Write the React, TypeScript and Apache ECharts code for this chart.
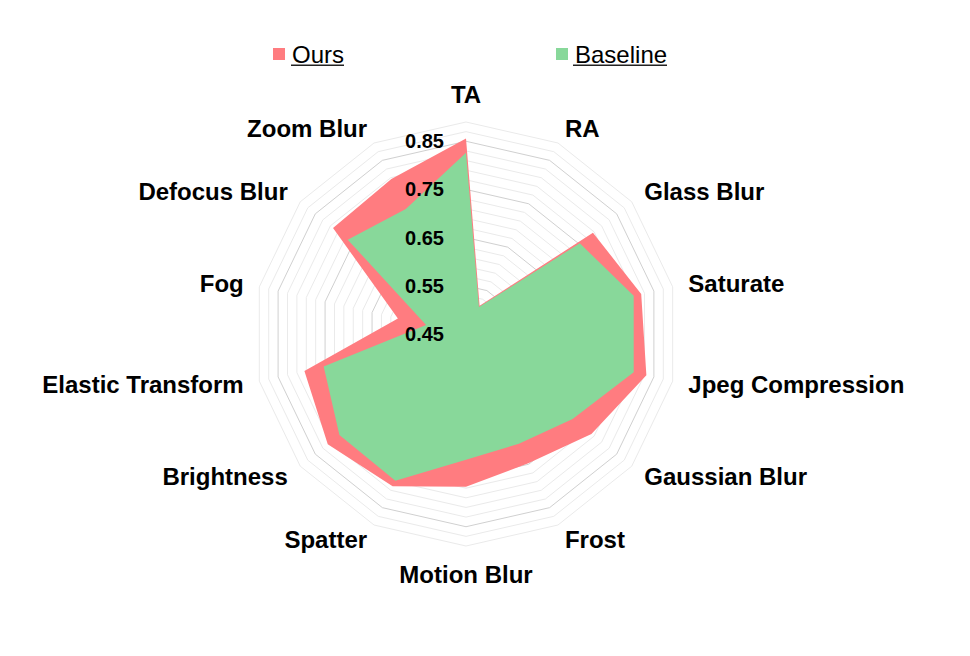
import React, { useEffect, useRef } from "react";
import * as echarts from "echarts";

const categories = [
  "TA", "RA", "Glass Blur", "Saturate", "Jpeg Compression", "Gaussian Blur", "Frost",
  "Motion Blur", "Spatter", "Brightness", "Elastic Transform", "Fog", "Defocus Blur", "Zoom Blur",
];
const oursValues = [0.856, 0.515, 0.787, 0.823, 0.834, 0.783, 0.748, 0.767, 0.801, 0.817, 0.794, 0.595, 0.803, 0.807];
const baselineValues = [0.826, 0.512, 0.752, 0.807, 0.807, 0.733, 0.703, 0.711, 0.788, 0.786, 0.753, 0.535, 0.764, 0.738];
const seriesNames = ["Ours", "Baseline"];
const tickLabels = ["0.45", "0.55", "0.65", "0.75", "0.85"];
const axisMin = 0.45;
const axisMax = 0.89;
const minorStep = 0.02;
const majorStep = 0.1;

const FONT = "'Liberation Sans', Arial, sans-serif";

export default function App() {
  const ref = useRef<HTMLDivElement>(null);
  useEffect(() => {
    if (!ref.current) return;
    const chart = echarts.init(ref.current, undefined, { renderer: "svg" });
    // ECharts radar lays indicators counter-clockwise; reverse (keep first at top) for clockwise order
    const order = [0, ...Array.from({ length: categories.length - 1 }, (_, i) => categories.length - 1 - i)];
    const splits = Math.round((axisMax - axisMin) / minorStep);
    const majorEvery = Math.round(majorStep / minorStep);
    const splitColors = Array.from({ length: majorEvery }, (_, i) => (i === 0 ? "#d0d0d0" : "#eaeaea"));
    const indicator = order.map((idx) => ({ name: categories[idx], min: axisMin, max: axisMax }));
    chart.setOption({
      animation: false,
      backgroundColor: "#fff",
      legend: {
        data: seriesNames,
        left: 273,
        top: 42,
        padding: 0,
        itemGap: 212,
        itemWidth: 12,
        itemHeight: 12,
        icon: "rect",
        textStyle: { color: "#000", fontSize: 24, fontFamily: FONT, padding: [0, 0, 0, 2] },
      },
      radar: {
        center: [466, 334],
        radius: 212,
        startAngle: 90,
        shape: "polygon",
        splitNumber: splits,
        nameGap: 16,
        axisName: { color: "#000", fontSize: 24, fontWeight: "bold", fontFamily: FONT },
        axisLine: { show: false },
        axisTick: { show: false },
        axisLabel: { show: false },
        splitArea: { show: false },
        splitLine: { lineStyle: { color: splitColors, width: 1 } },
        indicator,
      },
      polar: { center: [466, 334], radius: 212, z: 5 },
      angleAxis: {
        type: "value",
        startAngle: 90,
        show: false,
        min: 0,
        max: 360,
      },
      radiusAxis: {
        type: "value",
        min: axisMin,
        max: axisMax,
        interval: majorStep,
        z: 5,
        axisLine: { show: false },
        axisTick: { show: false },
        splitLine: { show: false },
        axisLabel: {
          show: true,
          showMinLabel: true,
          showMaxLabel: true,
          color: "#000",
          fontSize: 20,
          fontWeight: "bold",
          fontFamily: FONT,
          margin: 22,
          formatter: (v: number) => {
            const k = Math.round((v - axisMin) / majorStep);
            return Math.abs((v - axisMin) / majorStep - k) < 1e-4 && k < tickLabels.length ? tickLabels[k] : "";
          },
        },
      },
      graphic: [
        { type: "rect", shape: { x: 291, y: 64.5, width: 53, height: 1.6 }, style: { fill: "#222" } },
        { type: "rect", shape: { x: 573, y: 64.5, width: 94, height: 1.6 }, style: { fill: "#222" } },
      ],
      series: [
        {
          type: "radar",
          symbol: "none",
          z: 2,
          data: [
            {
              name: seriesNames[0],
              value: order.map((i) => oursValues[i]),
              itemStyle: { color: "#FF7C80" },
              lineStyle: { width: 0, color: "#FF7C80" },
              areaStyle: { color: "#FF7C80", opacity: 1 },
            },
            {
              name: seriesNames[1],
              value: order.map((i) => baselineValues[i]),
              itemStyle: { color: "#88D89A" },
              lineStyle: { width: 0, color: "#88D89A" },
              areaStyle: { color: "#88D89A", opacity: 1 },
            },
          ],
        },
      ],
    });
    return () => chart.dispose();
  }, []);
  return (
    <div
      ref={ref}
      style={{ position: "fixed", left: 0, top: 0, width: 970, height: 656 }}
    />
  );
}
